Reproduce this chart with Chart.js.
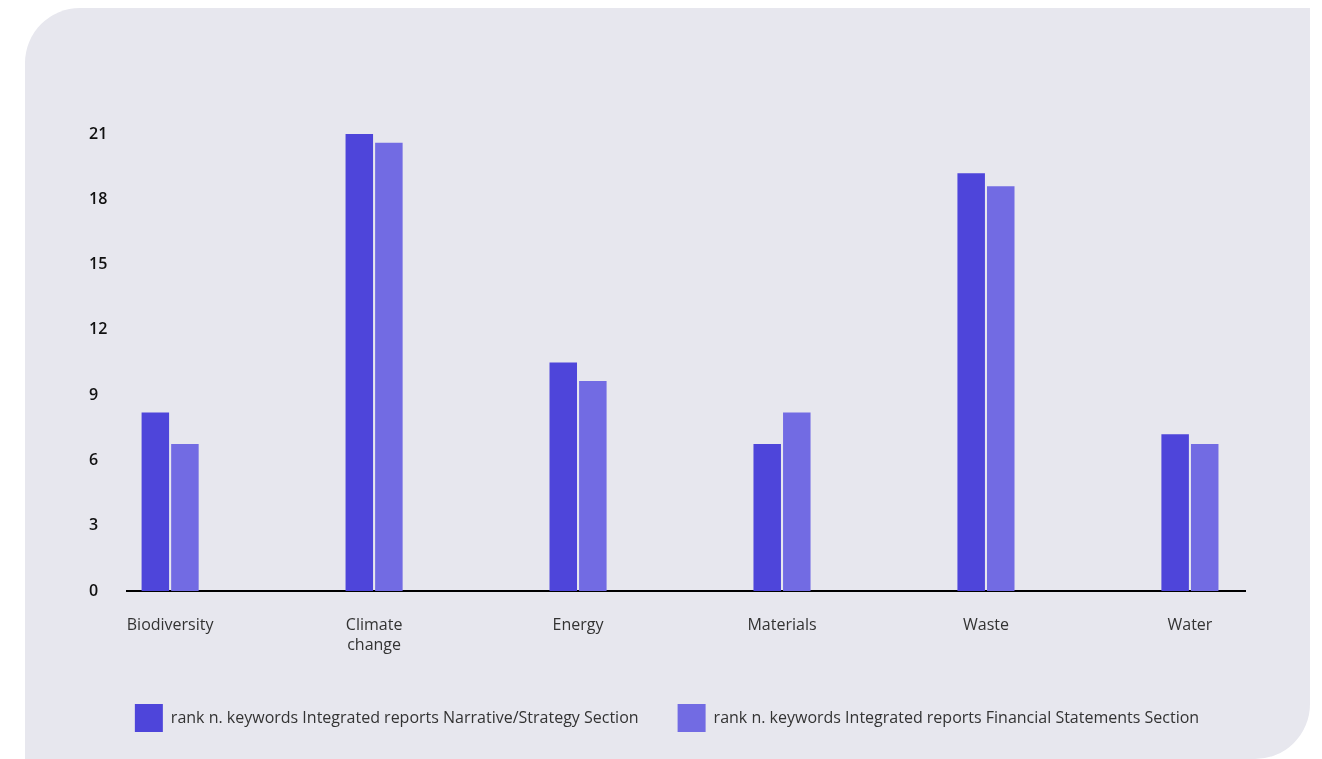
<!DOCTYPE html>
<html>
<head>
<meta charset="utf-8">
<script src="https://cdn.jsdelivr.net/npm/chart.js@4.4.0/dist/chart.umd.min.js"></script>
<style>
  html, body { margin: 0; padding: 0; background: #fff; overflow: hidden; }
  #panel {
    position: absolute; left: 25px; top: 8px; width: 1285px; height: 751px;
    background: #e7e7ee; border-radius: 55px 0 55px 0;
  }
  #wrap { position: absolute; left: 0; top: 0; width: 1322px; height: 742px; }
</style>
</head>
<body>
<div id="panel"></div>
<div id="wrap"><canvas id="chart"></canvas></div>
<script>
const categories = ['Biodiversity', ['Climate', 'change'], 'Energy', 'Materials', 'Waste', 'Water'];
const narrativeValues = [8.2, 21, 10.5, 6.75, 19.2, 7.2];
const financialValues = [6.75, 20.6, 9.65, 8.2, 18.6, 6.75];
const seriesNames = [
  'rank n. keywords Integrated reports Narrative/Strategy Section',
  'rank n. keywords Integrated reports Financial Statements Section'
];
const yTicks = [0, 3, 6, 9, 12, 15, 18, 21];

const toPoints = vals => vals.map((v, i) => ({ x: i, y: v }));

new Chart(document.getElementById('chart'), {
  type: 'bar',
  data: {
    datasets: [
      { label: seriesNames[0], data: toPoints(narrativeValues), backgroundColor: '#4e45da' },
      { label: seriesNames[1], data: toPoints(financialValues), backgroundColor: '#726be3' }
    ]
  },
  options: {
    responsive: true,
    maintainAspectRatio: false,
    animation: false,
    categoryPercentage: 0.29,
    barPercentage: 0.93,
    layout: { padding: { left: 89, right: 77, top: 134, bottom: 0 } },
    plugins: {
      tooltip: { enabled: false },
      legend: {
        position: 'bottom',
        labels: {
          boxWidth: 28, boxHeight: 28, padding: 39,
          color: '#333',
          font: { family: 'Open Sans', size: 16 }
        }
      }
    },
    scales: {
      x: {
        type: 'linear',
        offset: false,
        min: -0.21, max: 5.27,
        grid: { display: false, drawTicks: false },
        border: { display: true, color: '#000', width: 2 },
        afterFit: s => { s.height -= 14; },
        ticks: {
          stepSize: 1,
          includeBounds: false,
          autoSkip: false,
          maxRotation: 0,
          padding: 24,
          color: '#333',
          font: { family: 'Open Sans', size: 16, lineHeight: 1.25 },
          callback: v => Number.isInteger(v) ? categories[v] : ''
        }
      },
      y: {
        min: 0, max: 21,
        afterBuildTicks: s => { s.ticks = yTicks.map(v => ({ value: v })); },
        grid: { display: false, drawTicks: false },
        border: { display: false },
        ticks: {
          crossAlign: 'far',
          padding: 10,
          color: '#111',
          font: { family: 'Open Sans', size: 16, weight: '600' }
        }
      }
    }
  }
});
</script>
</body>
</html>
